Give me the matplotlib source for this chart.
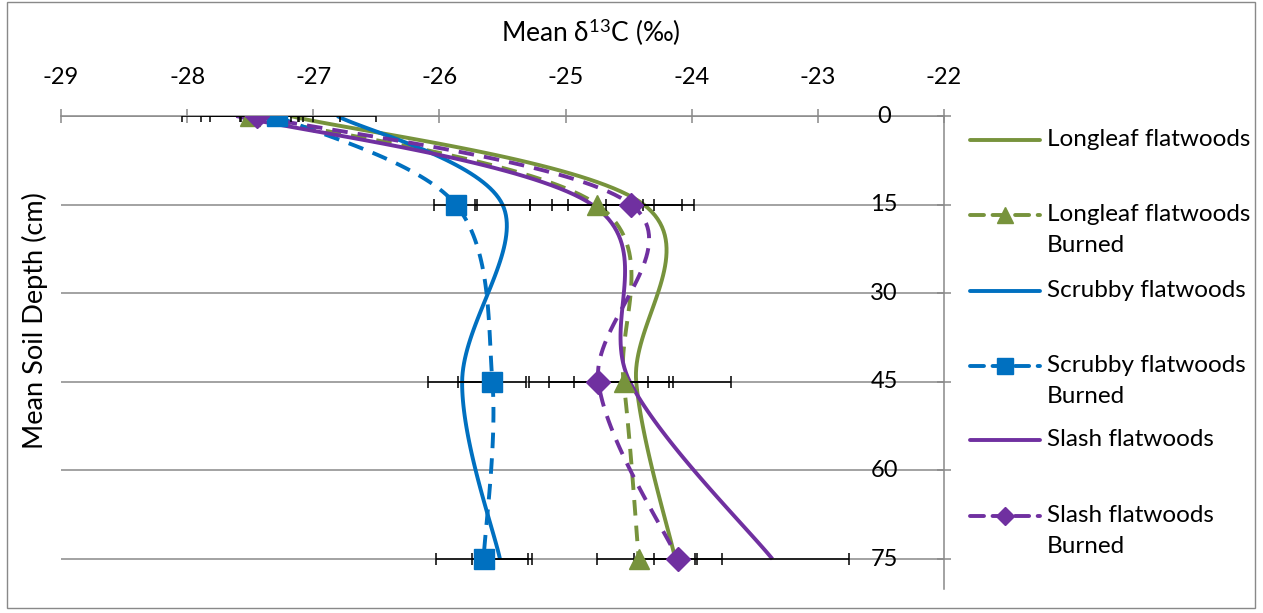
import numpy as np
import matplotlib
matplotlib.use("Agg")
import matplotlib.pyplot as plt
from matplotlib.lines import Line2D
from matplotlib.patches import Rectangle

plt.rcParams['font.family'] = ['Lato', 'DejaVu Sans']
plt.rcParams['mathtext.fontset'] = 'custom'
plt.rcParams['mathtext.rm'] = 'Lato'
plt.rcParams['mathtext.it'] = 'Lato:italic'

# depths (cm) at which every series was measured
depths = [0, 15, 45, 75]

# mean delta13C values and their error (per mil)
longleaf = [-27.18, -24.38, -24.44, -24.13]
longleaf_err = [0.39, 0.30, 0.26, 0.17]
longleaf_burned = [-27.50, -24.75, -24.54, -24.42]
longleaf_burned_err = [0.39, 0.36, 0.39, 0.33]
scrubby = [-26.81, -25.50, -25.82, -25.52]
scrubby_err = [0.31, 0.22, 0.27, 0.22]
scrubby_burned = [-27.29, -25.87, -25.58, -25.65]
scrubby_burned_err = [0.29, 0.17, 0.27, 0.38]
slash = [-27.61, -24.79, -24.49, -23.36]
slash_err = [0.43, 0.49, 0.80, 0.61]
slash_burned = [-27.45, -24.48, -24.74, -24.11]
slash_burned_err = [0.37, 0.50, 0.39, 0.35]

x_ticks = [-29, -28, -27, -26, -25, -24, -23, -22]
depth_ticks = [0, 15, 30, 45, 60, 75]

GREEN = '#77933C'
BLUE = '#0070C0'
PURPLE = '#7030A0'
GRAY = '#898989'
FS = 17

series = [
    ("Longleaf flatwoods", longleaf, longleaf_err, GREEN, False, None),
    ("Longleaf flatwoods\nBurned", longleaf_burned, longleaf_burned_err, GREEN, True, '^'),
    ("Scrubby flatwoods", scrubby, scrubby_err, BLUE, False, None),
    ("Scrubby flatwoods\nBurned", scrubby_burned, scrubby_burned_err, BLUE, True, 's'),
    ("Slash flatwoods", slash, slash_err, PURPLE, False, None),
    ("Slash flatwoods\nBurned", slash_burned, slash_burned_err, PURPLE, True, 'D'),
]


def smooth(xs, ys, n=40):
    """Excel-like smoothed line (Catmull-Rom as cubic Bezier)."""
    pts = np.column_stack([xs, ys]).astype(float)
    p = np.vstack([pts[0], pts, pts[-1]])
    t = np.linspace(0, 1, n)[:, None]
    out = []
    for i in range(1, len(p) - 2):
        p0, p1, p2, p3 = p[i - 1], p[i], p[i + 1], p[i + 2]
        c1 = p1 + (p2 - p0) / 6
        c2 = p2 - (p3 - p1) / 6
        seg = ((1 - t) ** 3 * p1 + 3 * (1 - t) ** 2 * t * c1
               + 3 * (1 - t) * t ** 2 * c2 + t ** 3 * p2)
        out.append(seg)
    curve = np.vstack(out)
    return curve[:, 0], curve[:, 1]


W, H = 1263, 613
fig = plt.figure(figsize=(W / 100, H / 100), dpi=100)
ax = fig.add_axes([61 / W, 1 - 588.6 / H, (944 - 61) / W, (588.6 - 116) / H])

LW = 2.8
DASH = (4, 2.6)
marker_size = {'^': 15, 's': 15, 'D': 12}

for label, vals, err, color, burned, mk in series:
    sx, sy = smooth(vals, depths)
    line, = ax.plot(sx, sy, color=color, lw=LW, zorder=2,
                    solid_capstyle='butt')
    if burned:
        line.set_dashes(DASH)
        line.set_dash_capstyle('butt')
    ax.errorbar(vals, depths, xerr=err, fmt='none', ecolor='black',
                elinewidth=1.1, capsize=4.3, capthick=1.1, zorder=3)
    if mk:
        ax.plot(vals, depths, ls='none', marker=mk, ms=marker_size[mk],
                color=color, mec=color, zorder=4)

ax.set_xlim(-29, -22)
ax.set_ylim(80, 0)
ax.set_xticks(x_ticks)
ax.set_xticklabels([f"{v}" for v in x_ticks])
ax.set_yticks(depth_ticks)
ax.set_yticklabels([])
ax.xaxis.tick_top()
ax.yaxis.tick_right()
ax.tick_params(axis='x', direction='inout', length=10, width=1.1,
               color=GRAY, pad=15, labelsize=FS)
ax.tick_params(axis='y', direction='inout', length=10, width=1.1,
               color=GRAY, labelright=False, right=True)
ax.yaxis.grid(True, color=GRAY, lw=1.1, zorder=0)
ax.set_axisbelow(True)
for side in ['left', 'bottom']:
    ax.spines[side].set_visible(False)
for side in ['top', 'right']:
    ax.spines[side].set_color(GRAY)
    ax.spines[side].set_linewidth(1.1)

for d in depth_ticks:
    ax.text(-22.475, d, str(d), ha='center', va='center', fontsize=FS)

fig.text(591 / W, 1 - 32 / H, r"Mean δ$^{\mathrm{13}}$C (‰)", ha='center',
         va='center', fontsize=19)
fig.text(35 / W, 1 - 321 / H, "Mean Soil Depth (cm)", ha='center',
         va='center', rotation=90, fontsize=19.5)

# legend, drawn by hand to mimic Excel's spacing
legend_y = [140, 215, 291, 366, 440, 516]
for (label, vals, err, color, burned, mk), ly in zip(series, legend_y):
    yf = 1 - ly / H
    if burned:
        fig.add_artist(Line2D([970 / W, 1040 / W], [yf, yf], color=color,
                              lw=LW, dashes=(3.6, 2.2),
                              dash_capstyle='round', transform=fig.transFigure))
        fig.add_artist(Line2D([1005 / W], [yf], color=color, marker=mk,
                              ms=marker_size[mk] * 0.8, ls='none',
                              transform=fig.transFigure))
    else:
        fig.add_artist(Line2D([970 / W, 1040 / W], [yf, yf], color=color,
                              lw=LW, solid_capstyle='round',
                              transform=fig.transFigure))
    fig.text(1047 / W, 1 - (ly - 11) / H, label, ha='left', va='top',
             fontsize=17.5, linespacing=1.6)

fig.add_artist(Rectangle((7 / W, 1 - 608 / H), (1255 - 7) / W, (608 - 2) / H,
                         transform=fig.transFigure, fill=False,
                         edgecolor=GRAY, lw=1.0))

fig.savefig("out.png", dpi=100)
